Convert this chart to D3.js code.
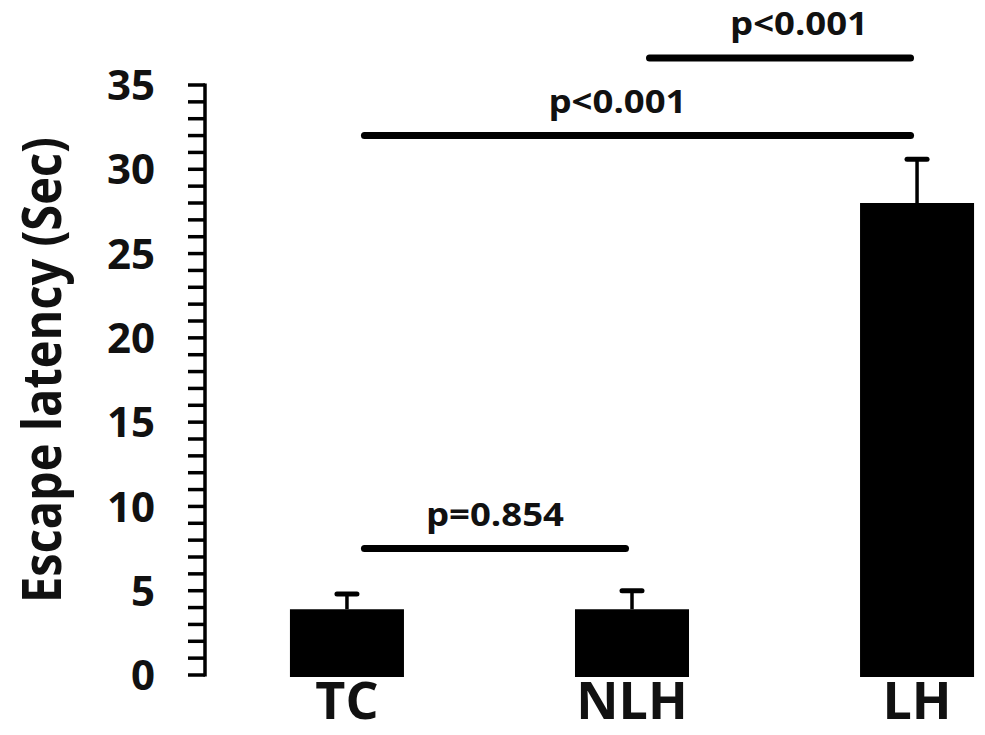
<!DOCTYPE html>
<html>
<head>
<meta charset="utf-8">
<script src="https://cdn.jsdelivr.net/npm/d3@7"></script>
<style>
  html, body { margin: 0; padding: 0; background: #fff; }
  svg { display: block; }
  text { font-family: "Open Sans", "DejaVu Sans", sans-serif; font-weight: 700; fill: #111; }
</style>
</head>
<body>
<svg id="chart" width="985" height="735"></svg>
<script>
// ---- data ----
const categories = ["TC", "NLH", "LH"];
const means = [3.9, 3.9, 28.0];
const errors = [0.9, 1.1, 2.6];
const yTicks = [0, 5, 10, 15, 20, 25, 30, 35];
const compFrom = ["TC", "TC", "NLH"];
const compTo = ["NLH", "LH", "LH"];
const compLevel = [7.5, 32.0, 36.6];
const compLabel = ["p=0.854", "p<0.001", "p<0.001"];
const yTitle = "Escape latency (Sec)";

// ---- layout ----
const svg = d3.select("#chart");
const axisX = 205;
const y = d3.scaleLinear().domain([0, 35]).range([675, 85]);
const x = d3.scaleBand().domain(categories).range([205, 1059])
  .paddingInner(0.6).paddingOuter(0.298);
const cx = c => x(c) + x.bandwidth() / 2;

// bars
svg.append("g").selectAll("rect").data(categories).join("rect")
  .attr("x", d => x(d))
  .attr("y", (d, i) => y(means[i]))
  .attr("width", x.bandwidth())
  .attr("height", (d, i) => y(0) - y(means[i]) + 2)
  .attr("fill", "#000");

// error bars
const eb = svg.append("g").attr("stroke", "#000").attr("fill", "none");
categories.forEach((c, i) => {
  eb.append("line").attr("x1", cx(c)).attr("x2", cx(c))
    .attr("y1", y(means[i])).attr("y2", y(means[i] + errors[i]))
    .attr("stroke-width", 3.5);
  eb.append("line").attr("x1", cx(c) - 10).attr("x2", cx(c) + 10)
    .attr("y1", y(means[i] + errors[i])).attr("y2", y(means[i] + errors[i]))
    .attr("stroke-width", 5).attr("stroke-linecap", "round");
});

// y axis
const ag = svg.append("g").attr("stroke", "#000");
ag.append("line").attr("x1", axisX).attr("x2", axisX)
  .attr("y1", y(35) - 1.5).attr("y2", y(0) + 1.5).attr("stroke-width", 3.5);
d3.range(0, 36, 1).forEach(v => {
  ag.append("line").attr("x1", axisX - 17).attr("x2", axisX)
    .attr("y1", y(v)).attr("y2", y(v)).attr("stroke-width", 3.5);
});
svg.append("g").selectAll("text").data(yTicks).join("text")
  .attr("x", 155).attr("y", d => y(d))
  .attr("dy", "0.36em")
  .attr("text-anchor", "end")
  .attr("font-size", 42)
  .text(d => d);

// x labels
svg.append("g").selectAll("text").data(categories).join("text")
  .attr("x", d => cx(d)).attr("y", 719)
  .attr("text-anchor", "middle")
  .attr("font-size", 52)
  .text(d => d);

// y title
svg.append("text")
  .attr("transform", "translate(61,370) rotate(-90)")
  .attr("text-anchor", "middle")
  .attr("font-size", 54)
  .attr("textLength", 466)
  .attr("lengthAdjust", "spacingAndGlyphs")
  .text(yTitle);

// significance brackets
const labelShift = [0, -20, 19];
const sg = svg.append("g");
compLabel.forEach((lab, i) => {
  const x1 = cx(compFrom[i]) + 17.5;
  const x2 = cx(compTo[i]) - 6.5;
  const yy = y(compLevel[i]);
  sg.append("line").attr("x1", x1).attr("x2", x2).attr("y1", yy).attr("y2", yy)
    .attr("stroke", "#000").attr("stroke-width", 7).attr("stroke-linecap", "round");
  sg.append("text")
    .attr("x", (x1 + x2) / 2 + labelShift[i]).attr("y", yy - 23)
    .attr("text-anchor", "middle")
    .attr("font-size", 33)
    .attr("textLength", 138)
    .attr("lengthAdjust", "spacingAndGlyphs")
    .text(lab);
});
</script>
</body>
</html>
